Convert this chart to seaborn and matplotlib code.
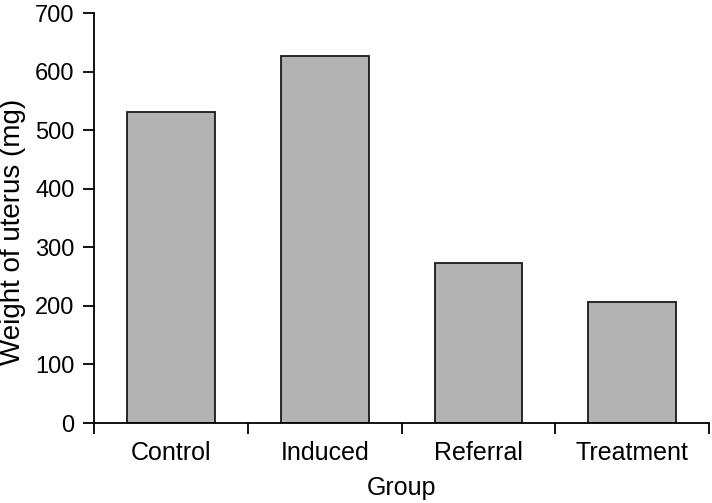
import numpy as np
import pandas as pd
import matplotlib
matplotlib.use('Agg')
import matplotlib.pyplot as plt
import seaborn as sns

groups = ['Control', 'Induced', 'Referral', 'Treatment']
weights = [531, 627, 274, 207]

df = pd.DataFrame({'Group': groups, 'Weight': weights})

sns.set_style('ticks')
plt.rcParams['font.family'] = ['Liberation Sans', 'DejaVu Sans']
plt.rcParams['text.color'] = 'black'
plt.rcParams['axes.labelcolor'] = 'black'
plt.rcParams['xtick.color'] = 'black'
plt.rcParams['ytick.color'] = 'black'
plt.rcParams['axes.edgecolor'] = 'black'

fig = plt.figure(figsize=(7.12, 5.03), dpi=100)
ax = fig.add_axes([0.132, 0.159, 0.864, 0.815])

sns.barplot(data=df, x='Group', y='Weight', color='#b3b3b3', saturation=1,
            edgecolor='#1a1a1a', linewidth=1.3, width=0.57, ax=ax)

ax.set_xlim(-0.5, 3.5)
ax.set_ylim(0, 700)
ax.set_yticks(np.arange(0, 701, 100))
# tick marks sit between the groups, labels under the bars
ax.set_xticks(np.arange(-0.5, 3.6, 1), minor=False)
ax.set_xticklabels([])
ax.set_xticks(np.arange(4), minor=True)
ax.set_xticklabels(groups, minor=True)
ax.tick_params(axis='x', which='minor', length=0, pad=13, labelsize=18)
ax.tick_params(axis='x', which='major', length=8, width=1.3, direction='out')
ax.tick_params(axis='y', length=8, width=1.3, direction='out', labelsize=17, pad=6)

sns.despine(ax=ax)
ax.spines['left'].set_linewidth(1.3)
ax.spines['bottom'].set_linewidth(1.3)

ax.set_xlabel('Group', fontsize=18, labelpad=8)
ax.set_ylabel('')
fig.text(0.018, 0.54, 'Weight of uterus (mg)', fontsize=20, rotation=90,
         ha='center', va='center')

fig.savefig('out.png', dpi=100)
